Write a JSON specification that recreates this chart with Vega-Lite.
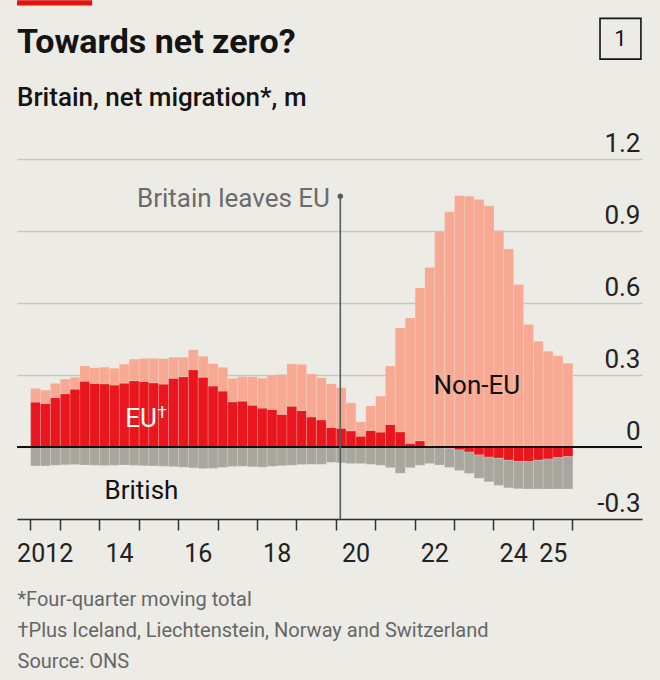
{
  "$schema": "https://vega.github.io/schema/vega-lite/v6.json",
  "autosize": "none",
  "width": 625,
  "height": 360,
  "padding": {"left": 17, "top": 159, "right": 18, "bottom": 161},
  "background": "#ecebe5",
  "title": {
    "text": "Towards net zero?",
    "subtitle": "Britain, net migration*, m",
    "anchor": "start",
    "frame": "group",
    "offset": -111,
    "font": "Roboto",
    "fontSize": 34,
    "fontWeight": "bold",
    "color": "#141414",
    "subtitleFont": "Roboto",
    "subtitleFontSize": 26,
    "subtitleFontWeight": 500,
    "subtitleColor": "#141414",
    "subtitlePadding": 25
  },
  "data": {"values": [{}]},
  "datasets": {
    "migration": [
      {"date": "2012-04-01", "eu": 0.187, "non_eu": 0.057, "british": -0.079},
      {"date": "2012-07-01", "eu": 0.181, "non_eu": 0.056, "british": -0.079},
      {"date": "2012-10-01", "eu": 0.206, "non_eu": 0.059, "british": -0.076},
      {"date": "2013-01-01", "eu": 0.222, "non_eu": 0.061, "british": -0.074},
      {"date": "2013-04-01", "eu": 0.241, "non_eu": 0.049, "british": -0.073},
      {"date": "2013-07-01", "eu": 0.274, "non_eu": 0.064, "british": -0.075},
      {"date": "2013-10-01", "eu": 0.265, "non_eu": 0.065, "british": -0.076},
      {"date": "2014-01-01", "eu": 0.263, "non_eu": 0.070, "british": -0.077},
      {"date": "2014-04-01", "eu": 0.258, "non_eu": 0.070, "british": -0.076},
      {"date": "2014-07-01", "eu": 0.266, "non_eu": 0.079, "british": -0.075},
      {"date": "2014-10-01", "eu": 0.276, "non_eu": 0.090, "british": -0.076},
      {"date": "2015-01-01", "eu": 0.273, "non_eu": 0.096, "british": -0.078},
      {"date": "2015-04-01", "eu": 0.267, "non_eu": 0.102, "british": -0.079},
      {"date": "2015-07-01", "eu": 0.262, "non_eu": 0.106, "british": -0.080},
      {"date": "2015-10-01", "eu": 0.286, "non_eu": 0.088, "british": -0.082},
      {"date": "2016-01-01", "eu": 0.293, "non_eu": 0.081, "british": -0.084},
      {"date": "2016-04-01", "eu": 0.322, "non_eu": 0.083, "british": -0.087},
      {"date": "2016-07-01", "eu": 0.291, "non_eu": 0.087, "british": -0.090},
      {"date": "2016-10-01", "eu": 0.254, "non_eu": 0.093, "british": -0.089},
      {"date": "2017-01-01", "eu": 0.233, "non_eu": 0.099, "british": -0.085},
      {"date": "2017-04-01", "eu": 0.188, "non_eu": 0.098, "british": -0.081},
      {"date": "2017-07-01", "eu": 0.191, "non_eu": 0.102, "british": -0.080},
      {"date": "2017-10-01", "eu": 0.174, "non_eu": 0.119, "british": -0.082},
      {"date": "2018-01-01", "eu": 0.162, "non_eu": 0.125, "british": -0.084},
      {"date": "2018-04-01", "eu": 0.156, "non_eu": 0.144, "british": -0.080},
      {"date": "2018-07-01", "eu": 0.136, "non_eu": 0.166, "british": -0.078},
      {"date": "2018-10-01", "eu": 0.170, "non_eu": 0.176, "british": -0.076},
      {"date": "2019-01-01", "eu": 0.152, "non_eu": 0.192, "british": -0.073},
      {"date": "2019-04-01", "eu": 0.125, "non_eu": 0.180, "british": -0.072},
      {"date": "2019-07-01", "eu": 0.113, "non_eu": 0.175, "british": -0.072},
      {"date": "2019-10-01", "eu": 0.081, "non_eu": 0.182, "british": -0.064},
      {"date": "2020-01-01", "eu": 0.078, "non_eu": 0.169, "british": -0.066},
      {"date": "2020-04-01", "eu": 0.067, "non_eu": 0.117, "british": -0.069},
      {"date": "2020-07-01", "eu": 0.045, "non_eu": 0.060, "british": -0.069},
      {"date": "2020-10-01", "eu": 0.069, "non_eu": 0.102, "british": -0.072},
      {"date": "2021-01-01", "eu": 0.062, "non_eu": 0.150, "british": -0.076},
      {"date": "2021-04-01", "eu": 0.094, "non_eu": 0.243, "british": -0.086},
      {"date": "2021-07-01", "eu": 0.063, "non_eu": 0.433, "british": -0.109},
      {"date": "2021-10-01", "eu": 0.015, "non_eu": 0.523, "british": -0.086},
      {"date": "2022-01-01", "eu": 0.026, "non_eu": 0.636, "british": -0.076},
      {"date": "2022-04-01", "eu": 0.005, "non_eu": 0.743, "british": -0.069},
      {"date": "2022-07-01", "eu": -0.003, "non_eu": 0.900, "british": -0.072},
      {"date": "2022-10-01", "eu": -0.006, "non_eu": 0.980, "british": -0.079},
      {"date": "2023-01-01", "eu": -0.012, "non_eu": 1.047, "british": -0.086},
      {"date": "2023-04-01", "eu": -0.021, "non_eu": 1.045, "british": -0.089},
      {"date": "2023-07-01", "eu": -0.033, "non_eu": 1.031, "british": -0.097},
      {"date": "2023-10-01", "eu": -0.042, "non_eu": 1.005, "british": -0.103},
      {"date": "2024-01-01", "eu": -0.047, "non_eu": 0.901, "british": -0.113},
      {"date": "2024-04-01", "eu": -0.055, "non_eu": 0.825, "british": -0.115},
      {"date": "2024-07-01", "eu": -0.060, "non_eu": 0.677, "british": -0.114},
      {"date": "2024-10-01", "eu": -0.060, "non_eu": 0.510, "british": -0.115},
      {"date": "2025-01-01", "eu": -0.055, "non_eu": 0.441, "british": -0.120},
      {"date": "2025-04-01", "eu": -0.050, "non_eu": 0.399, "british": -0.125},
      {"date": "2025-07-01", "eu": -0.044, "non_eu": 0.380, "british": -0.131},
      {"date": "2025-10-01", "eu": -0.040, "non_eu": 0.349, "british": -0.135}
    ]
  },
  "encoding": {
    "x": {
      "type": "temporal",
      "scale": {
        "type": "utc",
        "domain": [
          {"year": 2011, "month": 12, "date": 1, "utc": true},
          {"year": 2027, "month": 10, "date": 8, "utc": true}
        ]
      },
      "axis": {
        "orient": "bottom",
        "values": [
          {"year": 2012, "month": 4, "date": 1, "utc": true},
          {"year": 2013, "utc": true}, {"year": 2014, "utc": true},
          {"year": 2015, "utc": true}, {"year": 2016, "utc": true},
          {"year": 2017, "utc": true}, {"year": 2018, "utc": true},
          {"year": 2019, "utc": true}, {"year": 2020, "utc": true},
          {"year": 2021, "utc": true}, {"year": 2022, "utc": true},
          {"year": 2023, "utc": true}, {"year": 2024, "utc": true},
          {"year": 2025, "utc": true}, {"year": 2026, "utc": true}
        ],
        "labelExpr": "utcmonth(datum.value) == 3 ? '2012' : (indexof([2014, 2016, 2018, 2020, 2022, 2024, 2025], utcyear(datum.value)) >= 0 ? slice(toString(utcyear(datum.value)), 2) : '')",
        "labelOffset": {"condition": {"test": "utcmonth(datum.value) == 3", "value": 14.5}, "value": 19.7},
        "labelFont": "Roboto",
        "labelFontSize": 25,
        "labelColor": "#222222",
        "labelBaseline": "alphabetic",
        "labelPadding": 31,
        "labelOverlap": false,
        "labelFlush": false,
        "labelBound": false,
        "grid": false,
        "domainColor": "#333333",
        "domainWidth": 1.5,
        "tickColor": "#333333",
        "tickWidth": 1.5,
        "tickSize": 11,
        "title": ["*Four-quarter moving total", "†Plus Iceland, Liechtenstein, Norway and Switzerland", "Source: ONS"],
        "titleFont": "Roboto",
        "titleFontSize": 20,
        "titleFontWeight": "normal",
        "titleColor": "#666666",
        "titleAlign": "left",
        "titleBaseline": "alphabetic",
        "titleLineHeight": 31,
        "titleX": 0,
        "titleY": 86
      }
    },
    "y": {
      "type": "quantitative",
      "scale": {"domain": [-0.3, 1.2], "nice": false, "zero": false},
      "axis": {
        "orient": "right",
        "values": [-0.3, 0, 0.3, 0.6, 0.9, 1.2],
        "labelExpr": "datum.value == 0 ? '0' : (datum.value < 0 ? '-' + format(-datum.value, '.1f') : format(datum.value, '.1f'))",
        "labelFont": "Roboto",
        "labelFontSize": 26,
        "labelColor": "#222222",
        "labelAlign": "right",
        "labelBaseline": "alphabetic",
        "labelOffset": -8,
        "labelPadding": -2,
        "ticks": false,
        "tickSize": 0,
        "domain": false,
        "grid": true,
        "gridColor": "#c8c7be",
        "gridWidth": 1.3,
        "title": null
      }
    }
  },
  "layer": [
    {
      "data": {"name": "migration"},
      "transform": [
        {"fold": ["eu", "non_eu", "british"], "as": ["series", "value"]},
        {"calculate": "indexof(['eu', 'non_eu', 'british'], datum.series)", "as": "stack_rank"}
      ],
      "mark": {"type": "bar", "binSpacing": 0, "stroke": "#ecebe5", "strokeWidth": 0.4, "strokeOpacity": 0.5},
      "encoding": {
        "x": {"field": "date", "timeUnit": "utcyearquarter", "type": "temporal"},
        "y": {"field": "value", "type": "quantitative", "stack": "zero"},
        "color": {
          "field": "series",
          "type": "nominal",
          "scale": {"domain": ["eu", "non_eu", "british"], "range": ["#e9161e", "#f8a993", "#a8a79d"]},
          "legend": null
        },
        "order": {"field": "stack_rank", "type": "quantitative"}
      }
    },
    {
      "mark": {"type": "rule", "color": "#111111", "strokeWidth": 2},
      "encoding": {"y": {"datum": 0}}
    },
    {
      "mark": {"type": "rule", "color": "#5a5a5a", "strokeWidth": 1.6},
      "encoding": {
        "x": {"datum": {"year": 2020, "month": 2, "date": 12, "utc": true}},
        "y": {"datum": -0.3},
        "y2": {"datum": 1.045}
      }
    },
    {
      "mark": {"type": "point", "filled": true, "color": "#5a5a5a", "size": 30, "opacity": 1},
      "encoding": {
        "x": {"datum": {"year": 2020, "month": 2, "date": 12, "utc": true}},
        "y": {"datum": 1.045}
      }
    },
    {
      "mark": {"type": "text", "align": "right", "baseline": "alphabetic", "font": "Roboto", "fontSize": 26, "color": "#6b6b6b"},
      "encoding": {
        "x": {"datum": {"year": 2019, "month": 11, "date": 8, "utc": true}},
        "y": {"datum": 1.0},
        "text": {"value": "Britain leaves EU"}
      }
    },
    {
      "mark": {"type": "text", "align": "center", "baseline": "alphabetic", "font": "Roboto", "fontSize": 26, "color": "#ffffff"},
      "encoding": {
        "x": {"datum": {"year": 2015, "month": 1, "date": 23, "utc": true}},
        "y": {"datum": 0.082},
        "text": {"value": "EU"}
      }
    },
    {
      "mark": {"type": "text", "align": "left", "baseline": "alphabetic", "font": "Roboto", "fontSize": 17, "color": "#ffffff"},
      "encoding": {
        "x": {"datum": {"year": 2015, "month": 6, "date": 25, "utc": true}},
        "y": {"datum": 0.119},
        "text": {"value": "†"}
      }
    },
    {
      "mark": {"type": "text", "align": "center", "baseline": "alphabetic", "font": "Roboto", "fontSize": 26, "color": "#111111"},
      "encoding": {
        "x": {"datum": {"year": 2023, "month": 7, "date": 31, "utc": true}},
        "y": {"datum": 0.219},
        "text": {"value": "Non-EU"}
      }
    },
    {
      "mark": {"type": "text", "align": "center", "baseline": "alphabetic", "font": "Roboto", "fontSize": 26, "color": "#111111"},
      "encoding": {
        "x": {"datum": {"year": 2015, "month": 1, "date": 27, "utc": true}},
        "y": {"datum": -0.217},
        "text": {"value": "British"}
      }
    },
    {
      "mark": {"type": "rect", "color": "#e3120b"},
      "encoding": {
        "x": {"datum": {"year": 2011, "month": 12, "date": 1, "utc": true}},
        "x2": {"datum": {"year": 2013, "month": 10, "date": 27, "utc": true}},
        "y": {"datum": 1.861},
        "y2": {"datum": 1.84}
      }
    },
    {
      "mark": {"type": "rect", "filled": false, "stroke": "#141414", "strokeWidth": 1.6},
      "encoding": {
        "x": {"datum": {"year": 2026, "month": 9, "date": 14, "utc": true}},
        "x2": {"datum": {"year": 2027, "month": 9, "date": 28, "utc": true}},
        "y": {"datum": 1.786},
        "y2": {"datum": 1.616}
      }
    },
    {
      "mark": {"type": "text", "align": "center", "baseline": "middle", "font": "Roboto", "fontSize": 22, "color": "#141414"},
      "encoding": {
        "x": {"datum": {"year": 2027, "month": 3, "date": 22, "utc": true}},
        "y": {"datum": 1.7},
        "text": {"value": "1"}
      }
    }
  ],
  "config": {
    "view": {"stroke": null},
    "font": "Roboto"
  }
}
